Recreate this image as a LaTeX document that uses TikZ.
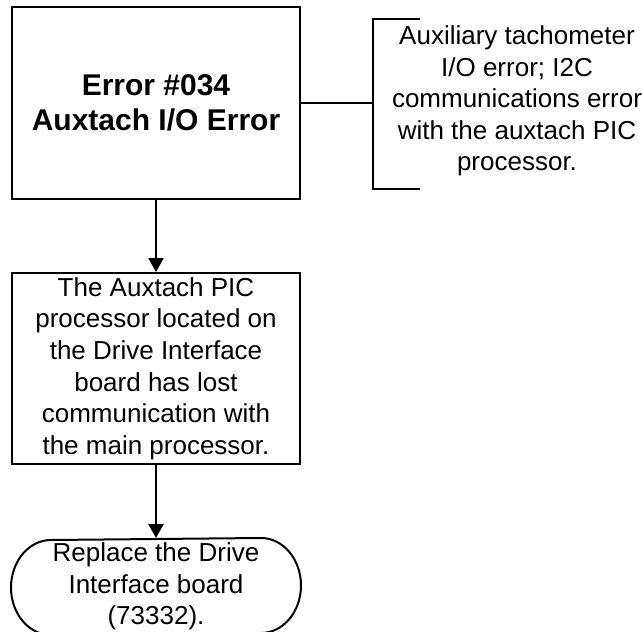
\documentclass[tikz,border=0pt]{standalone}
\usepackage{fontspec}
\setmainfont{Liberation Sans}
\usetikzlibrary{positioning,arrows.meta,calc}

\begin{document}
\begin{tikzpicture}[
  x=1pt, y=1pt,
  line width=2pt,
  body/.style={font=\fontsize{26}{31.6}\selectfont},
  errbox/.style={draw, minimum width=288pt, minimum height=192pt,
    inner sep=0pt, align=center, font=\bfseries\fontsize{30}{35}\selectfont},
  stepbox/.style={draw, body, minimum width=288pt, minimum height=191pt,
    inner sep=0pt, align=center},
  termbox/.style={body, minimum width=288pt, minimum height=95pt,
    inner sep=0pt, align=center},
  flow/.style={-{Triangle[length=14pt,width=15pt]}},
  ]
  \useasboundingbox (0,0) rectangle (643,-632);

  % The error code and its note.
  \node[errbox] (err) at (156,-103) {Error \#034\\Auxtach I/O Error};
  \node[body, align=center] (note) at (517,-101)
    {Auxiliary tachometer\\I/O error; I2C\\communications error\\with the auxtach PIC\\processor.};
  \coordinate (brk) at (373,-103);
  \draw (420,-19) -| (373,-189) -- (420,-189);
  \draw (err.east) -- (brk);

  % Cause and fix.
  \node[stepbox, below=72pt of err] (cause)
    {The Auxtach PIC\\processor located on\\the Drive Interface\\board has lost\\communication with\\the main processor.};
  \node[termbox, below=73pt of cause] (fix)
    {Replace the Drive\\Interface board\\(73332).};
  \draw[line join=round] ([xshift=-40pt]fix.north east)
    arc[start angle=90, end angle=-90, x radius=40pt, y radius=47.5pt]
    -- ([xshift=40pt]fix.south west)
    arc[start angle=270, end angle=90, x radius=40pt, y radius=47.5pt]
    -- ([xshift=-40pt]fix.north east);

  \draw[flow] (err) -- (cause);
  \draw[flow] (cause) -- (fix);
\end{tikzpicture}
\end{document}
